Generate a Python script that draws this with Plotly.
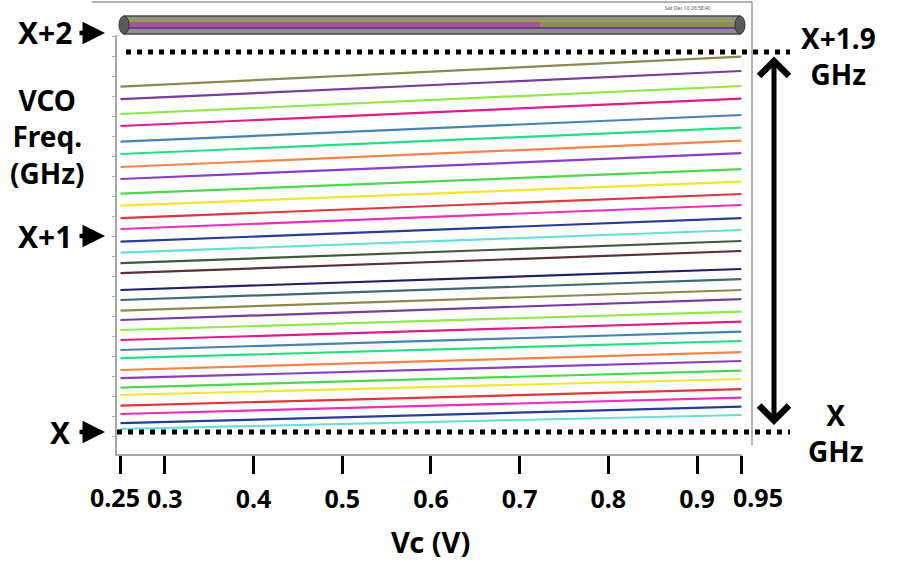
import plotly.graph_objects as go

# ---------------- data ----------------
vc_points = [0.25, 0.95]  # control voltage range (V)

# VCO frequency above X (GHz) at Vc = 0.25 V and Vc = 0.95 V, one entry per tuning curve (top to bottom)
freq_start = [1.727, 1.664, 1.590, 1.530, 1.452, 1.390, 1.325, 1.265, 1.192, 1.132, 1.069, 1.015,
              0.952, 0.897, 0.844, 0.794, 0.710, 0.660, 0.607, 0.560, 0.510, 0.460, 0.410, 0.369,
              0.310, 0.269, 0.222, 0.185, 0.132, 0.090, 0.044, 0.015]
freq_end = [1.877, 1.805, 1.730, 1.667, 1.585, 1.522, 1.457, 1.394, 1.314, 1.252, 1.190, 1.135,
            1.069, 1.010, 0.955, 0.905, 0.815, 0.764, 0.710, 0.664, 0.602, 0.552, 0.502, 0.455,
            0.399, 0.355, 0.307, 0.265, 0.214, 0.172, 0.127, 0.085]
line_colors = ["#8a8a4e", "#7a3c9c", "#8fe84a", "#e3198c", "#4682b8", "#22e082", "#f5844a",
               "#8a3ec8", "#4cd84c", "#f2e62e", "#e0363c", "#ee2cbf", "#283c9c", "#66e0d2",
               "#3f5a3a", "#5c2f35", "#1c2266", "#3e6a72",
               "#8a8a4e", "#7a3c9c", "#8fe84a", "#e3198c", "#4682b8", "#22e082", "#f5844a",
               "#8a3ec8", "#4cd84c", "#f2e62e", "#e0363c", "#ee2cbf", "#283c9c", "#66e0d2"]

x_tick_vals = [0.25, 0.3, 0.4, 0.5, 0.6, 0.7, 0.8, 0.9, 0.95]
x_tick_text = ["0.25", "0.3", "0.4", "0.5", "0.6", "0.7", "0.8", "0.9", "0.95"]
x_title = "Vc (V)"
y_title = "VCO<br>Freq.<br>(GHz)"
marker_low, marker_high = 0.0, 1.9   # X and X+1.9 GHz

# ---------------- layout geometry ----------------
W, H = 900, 566
L, R, T, B = 117, 158, 35, 112
PW, PH = W - L - R, H - T - B
FONT = "Noto Sans"
TICK_SIZE = 25
TICK_LABEL_Y = 497

def xp(px):
    return (px - L) / PW

def yp(py):
    return (H - B - py) / PH

fig = go.Figure()
for i in range(len(freq_start)):
    fig.add_trace(go.Scatter(x=vc_points, y=[freq_start[i], freq_end[i]], mode="lines",
                             line=dict(color=line_colors[i], width=2.2),
                             showlegend=False, hoverinfo="skip"))

shapes = []
# dotted marker lines at X and X+1.9
shapes.append(dict(type="line", xref="paper", yref="y", x0=xp(126), x1=xp(790),
                   y0=marker_high, y1=marker_high,
                   line=dict(color="black", width=5, dash="5px,6px")))
shapes.append(dict(type="line", xref="paper", yref="y", x0=xp(117), x1=xp(790),
                   y0=marker_low, y1=marker_low,
                   line=dict(color="black", width=5, dash="5px,6px")))
# window frame lines
shapes.append(dict(type="line", xref="paper", yref="paper", x0=xp(92), x1=xp(752),
                   y0=yp(2), y1=yp(2), line=dict(color="#9a9a9a", width=1.5)))
shapes.append(dict(type="line", xref="paper", yref="paper", x0=xp(752), x1=xp(752),
                   y0=yp(2), y1=yp(445), line=dict(color="#9a9a9a", width=1.5)))
# top zoom bar
shapes.append(dict(type="rect", xref="paper", yref="paper", x0=xp(124), x1=xp(740),
                   y0=yp(34), y1=yp(16), fillcolor="#8e8e8e",
                   line=dict(color="#4a4a4a", width=1.5)))
shapes.append(dict(type="rect", xref="paper", yref="paper", x0=xp(128), x1=xp(736),
                   y0=yp(22), y1=yp(18.5), fillcolor="#9a9862", line=dict(width=0)))
shapes.append(dict(type="rect", xref="paper", yref="paper", x0=xp(128), x1=xp(540),
                   y0=yp(27), y1=yp(22), fillcolor="#a2588e", line=dict(width=0)))
shapes.append(dict(type="rect", xref="paper", yref="paper", x0=xp(540), x1=xp(736),
                   y0=yp(27), y1=yp(22), fillcolor="#8f8a58", line=dict(width=0)))
shapes.append(dict(type="rect", xref="paper", yref="paper", x0=xp(128), x1=xp(736),
                   y0=yp(29), y1=yp(27), fillcolor="#6a3ea0", line=dict(width=0)))
for cx in (124, 740):
    shapes.append(dict(type="circle", xref="paper", yref="paper", x0=xp(cx - 5), x1=xp(cx + 5),
                       y0=yp(34), y1=yp(16), fillcolor="#5a5a5a",
                       line=dict(color="#333333", width=1)))

annotations = []
def text(px, py, s, size=30, color="black", xanchor="center"):
    annotations.append(dict(xref="paper", yref="paper", x=xp(px), y=yp(py), text=s,
                            showarrow=False, xanchor=xanchor, yanchor="middle",
                            font=dict(family=FONT, size=size, color=color)))

def arrow(px_from, px_to, py):
    annotations.append(dict(xref="paper", yref="paper", x=xp(px_to), y=yp(py), ax=px_from - px_to,
                            ay=0, text="", showarrow=True, arrowhead=2, arrowsize=1.0,
                            arrowwidth=4.5, arrowcolor="black", standoff=0))

text(45, 33, "<b>X+2</b>")
arrow(78, 105, 33)
text(45, 236, "<b>X+1</b>")
arrow(78, 105, 236)
text(60, 432, "<b>X</b>")
arrow(78, 105, 432)
text(47, 136, "<b>%s</b>" % y_title, size=28)
text(838, 56, "<b>X+1.9<br>GHz</b>", size=28)
text(836, 433, "<b>X<br>GHz</b>", size=28)
text(430, 541, "<b>%s</b>" % x_title, size=29)
text(688, 8, "Sat Dec 16 06:58:40", size=5, color="#555555")

# the end tick labels sit slightly outside their ticks in the reference
tick_text_axis = [""] + x_tick_text[1:-1] + [""]
for idx, shift in ((0, -6), (-1, 17)):
    annotations.append(dict(xref="x", yref="paper", x=x_tick_vals[idx], y=yp(TICK_LABEL_Y),
                            xshift=shift, text="<b>%s</b>" % x_tick_text[idx], showarrow=False,
                            xanchor="center", yanchor="middle",
                            font=dict(family=FONT, size=TICK_SIZE, color="black")))

# double arrow X .. X+1.9
annotations.append(dict(xref="paper", yref="paper", x=xp(774), y=yp(425), ax=0, ay=55 - 425,
                        text="", showarrow=True, arrowhead=4, startarrowhead=4,
                        arrowside="end+start", arrowsize=1.15, startarrowsize=1.15,
                        arrowwidth=5, arrowcolor="black", standoff=0, startstandoff=0))

fig.update_layout(
    width=W, height=H,
    margin=dict(l=L, r=R, t=T, b=B),
    paper_bgcolor="white", plot_bgcolor="white",
    shapes=shapes, annotations=annotations,
    xaxis=dict(range=[0.24605, 0.95067], tickvals=x_tick_vals, ticktext=tick_text_axis,
               ticks="outside", ticklen=18, tickwidth=3, tickcolor="black", tickangle=0,
               showline=True, linecolor="#a8a8a8", linewidth=2, showgrid=False, zeroline=False,
               tickfont=dict(family=FONT, size=TICK_SIZE, color="black", weight="bold"),
               ticklabelstandoff=4),
    yaxis=dict(range=[-0.11, 1.985], showline=True, linecolor="#a8a8a8", linewidth=2,
               ticks="outside", ticklen=3, tickwidth=1, tickcolor="#aaaaaa",
               tick0=0.077, dtick=0.1, showticklabels=False, showgrid=False, zeroline=False),
)

fig.write_html("out.html")
